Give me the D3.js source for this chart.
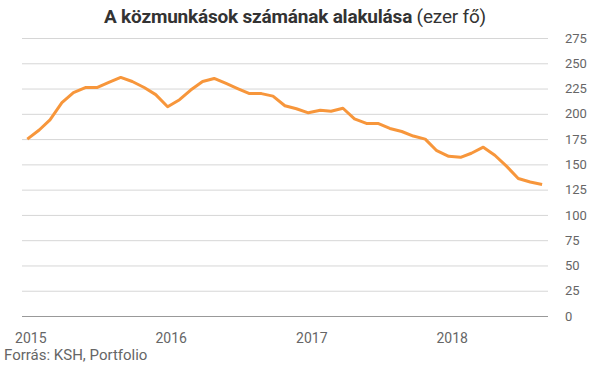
<!DOCTYPE html>
<html>
<head>
<meta charset="utf-8">
<script src="https://cdn.jsdelivr.net/npm/d3@7"></script>
<style>
  body { margin: 0; background: #fff; font-family: Roboto, "Noto Sans", sans-serif; }
  svg { display: block; }
</style>
</head>
<body>
<div id="chart"></div>
<script>
// monthly figures, Jan 2015 .. Sep 2018 (thousand people)
const months = [
  '2015-01','2015-02','2015-03','2015-04','2015-05','2015-06','2015-07','2015-08','2015-09','2015-10','2015-11','2015-12',
  '2016-01','2016-02','2016-03','2016-04','2016-05','2016-06','2016-07','2016-08','2016-09','2016-10','2016-11','2016-12',
  '2017-01','2017-02','2017-03','2017-04','2017-05','2017-06','2017-07','2017-08','2017-09','2017-10','2017-11','2017-12',
  '2018-01','2018-02','2018-03','2018-04','2018-05','2018-06','2018-07','2018-08','2018-09'
];
const workers = [
  175, 184, 194, 211, 221, 226, 226, 231, 236, 232, 226, 219,
  207, 214, 223.5, 232, 235, 230, 225, 220, 220, 217.5, 208, 205,
  201, 203.5, 202.5, 205.5, 195, 190.5, 190.5, 185.5, 182.5, 178, 175, 163.5,
  158, 157, 161, 167, 159, 148, 136, 132.5, 130
];
const yTicks = [0, 25, 50, 75, 100, 125, 150, 175, 200, 225, 250, 275];
const yearLabels = ['2015', '2016', '2017', '2018'];

const width = 602, height = 367;
const parse = d3.timeParse('%Y-%m');
const data = months.map((m, i) => ({ date: parse(m), value: workers[i] }));

const svg = d3.select('#chart').append('svg')
    .attr('width', width)
    .attr('height', height);

const x = d3.scaleTime()
    .domain(d3.extent(data, d => d.date))
    .range([27.3, 542.1]);

const y = d3.scaleLinear()
    .domain([0, 275])
    .range([316, 38]);

// gridlines + right-hand labels
const yAxis = d3.axisRight(y)
    .tickValues(yTicks)
    .tickSize(526)
    .tickPadding(17);

const gy = svg.append('g')
    .attr('transform', 'translate(22,0)')
    .call(yAxis);
gy.select('.domain').remove();
gy.selectAll('.tick line')
    .attr('stroke', d => d === 0 ? '#999' : '#d6d6d6')
    .attr('stroke-width', 1);
gy.selectAll('.tick text')
    .attr('fill', '#666')
    .style('font-size', '13px')
    .style('font-family', 'Roboto, sans-serif');

// year labels under the chart
const xAxis = d3.axisBottom(x)
    .tickValues(yearLabels.map(yr => parse(yr + '-01')))
    .tickFormat(d3.timeFormat('%Y'))
    .tickSize(0)
    .tickPadding(0);

const gx = svg.append('g')
    .attr('transform', 'translate(3,333)')
    .call(xAxis);
gx.select('.domain').remove();
gx.selectAll('.tick text')
    .attr('fill', '#666')
    .attr('dy', '0.71em')
    .style('font-size', '14px')
    .style('font-family', 'Roboto, sans-serif');

// the line
const line = d3.line()
    .x(d => x(d.date))
    .y(d => y(d.value));

svg.append('path')
    .datum(data)
    .attr('fill', 'none')
    .attr('stroke', '#f7963b')
    .attr('stroke-width', 3)
    .attr('stroke-linejoin', 'round')
    .attr('d', line);

// title
const title = svg.append('text')
    .attr('x', 295)
    .attr('y', 23)
    .attr('text-anchor', 'middle')
    .attr('fill', '#333')
    .style('font-size', '19px')
    .style('letter-spacing', '-0.2px')
    .style('font-family', 'Roboto, sans-serif');
title.append('tspan').attr('font-weight', 'bold').text('A közmunkások számának alakulása');
title.append('tspan').text(' (ezer fő)');

// source
svg.append('text')
    .attr('x', 4)
    .attr('y', 360)
    .attr('fill', '#666')
    .style('font-size', '15px')
    .style('font-family', 'Roboto, sans-serif')
    .text('Forrás: KSH, Portfolio');
</script>
</body>
</html>
